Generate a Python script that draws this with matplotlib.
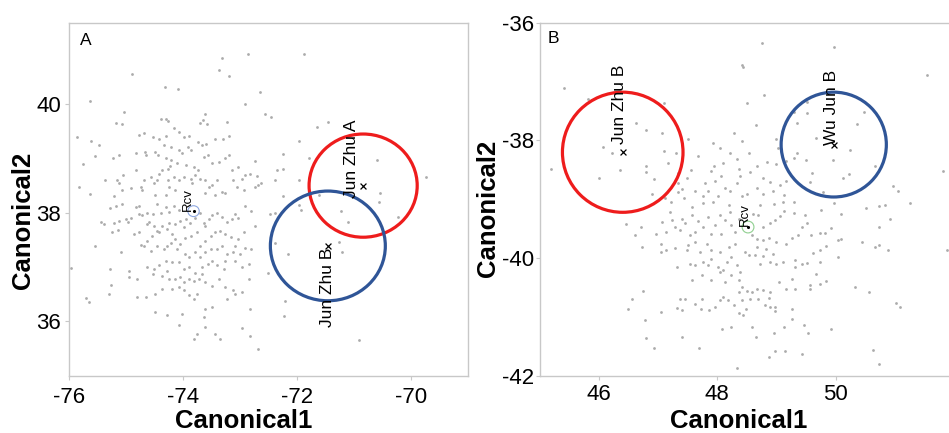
import numpy as np
import matplotlib
matplotlib.use("Agg")
import matplotlib.pyplot as plt
from matplotlib.patches import Circle

plt.rcParams['font.family'] = ['Liberation Sans', 'DejaVu Sans']
plt.rcParams['axes.unicode_minus'] = False

# ── Panel A: canonical scores ────────────────────────────────────────────────
a_points = [
    (-73.32, 40.85), (-72.87, 40.93), (-74.90, 40.55), (-73.37, 40.62), (-73.20, 40.52), (-72.65, 40.23),
    (-75.64, 40.05), (-74.32, 40.32), (-74.10, 40.28), (-72.92, 40.00), (-72.57, 39.82), (-75.04, 39.86),
    (-73.62, 39.82), (-74.40, 39.72), (-74.31, 39.73), (-74.26, 39.69), (-73.65, 39.71), (-73.70, 39.66),
    (-73.58, 39.63), (-75.18, 39.66), (-75.07, 39.64), (-73.23, 39.68), (-75.87, 39.39), (-75.62, 39.33),
    (-75.48, 39.24), (-74.78, 39.44), (-74.69, 39.47), (-74.54, 39.39), (-74.43, 39.35), (-74.30, 39.42),
    (-74.16, 39.56), (-74.07, 39.49), (-73.99, 39.39), (-73.90, 39.41), (-73.74, 39.31), (-73.67, 39.24),
    (-73.60, 39.26), (-73.44, 39.36), (-73.31, 39.36), (-73.19, 39.41), (-74.34, 39.24), (-74.22, 39.21),
    (-74.08, 39.15), (-74.02, 39.10), (-73.91, 39.21), (-73.87, 39.15), (-74.83, 39.10), (-74.67, 39.12),
    (-74.65, 39.06), (-75.13, 39.06), (-75.24, 39.00), (-75.55, 39.04), (-75.77, 38.89), (-74.50, 39.12),
    (-74.44, 39.06), (-74.30, 39.00), (-74.21, 38.97), (-74.23, 38.86), (-74.27, 38.81), (-74.11, 38.91),
    (-73.96, 38.88), (-73.81, 38.84), (-73.74, 38.78), (-73.64, 39.03), (-73.56, 39.06), (-73.49, 38.91),
    (-73.38, 38.94), (-73.26, 39.00), (-73.20, 39.06), (-73.14, 38.78), (-73.03, 38.84), (-72.74, 38.95),
    (-74.37, 38.78), (-74.43, 38.72), (-74.57, 38.66), (-74.69, 38.60), (-74.83, 38.78), (-75.06, 38.69),
    (-75.16, 38.60), (-75.13, 38.54), (-75.37, 38.60), (-75.83, 38.47), (-75.64, 38.34), (-75.07, 38.42),
    (-74.92, 38.45), (-74.75, 38.48), (-74.72, 38.42), (-74.51, 38.54), (-74.46, 38.60), (-74.26, 38.61),
    (-74.16, 38.65), (-74.08, 38.60), (-73.99, 38.66), (-73.87, 38.63), (-73.84, 38.54), (-73.79, 38.69),
    (-73.70, 38.63), (-73.61, 38.60), (-73.55, 38.48), (-73.49, 38.51), (-73.41, 38.60), (-73.32, 38.39),
    (-73.26, 38.36), (-73.12, 38.60), (-72.97, 38.63), (-72.91, 38.69), (-72.82, 38.72), (-72.71, 38.67),
    (-72.74, 38.48), (-72.68, 38.51), (-72.63, 38.54), (-72.94, 38.42), (-73.06, 38.48), (-74.25, 38.48),
    (-74.14, 38.42), (-74.49, 38.33), (-74.31, 38.33), (-73.61, 38.36), (-73.44, 38.33), (-75.21, 38.30),
    (-75.29, 38.09), (-75.18, 38.13), (-75.07, 38.16), (-74.83, 38.11), (-74.78, 38.13), (-74.46, 38.17),
    (-74.31, 38.11), (-74.16, 38.13), (-74.08, 38.06), (-74.25, 38.02), (-74.40, 38.00), (-74.54, 37.97),
    (-74.63, 37.99), (-74.72, 37.95), (-74.78, 37.97), (-74.92, 37.91), (-75.01, 37.88), (-74.98, 37.83),
    (-75.13, 37.85), (-75.21, 37.82), (-75.45, 37.83), (-75.39, 37.79), (-75.25, 37.64), (-75.14, 37.68),
    (-75.56, 37.39), (-75.10, 37.27), (-74.86, 37.61), (-74.78, 37.64), (-74.63, 37.79), (-74.60, 37.83),
    (-74.51, 37.76), (-74.47, 37.67), (-74.43, 37.64), (-74.55, 37.58), (-74.63, 37.48), (-74.69, 37.39),
    (-74.75, 37.40), (-74.57, 37.30), (-74.46, 37.39), (-74.34, 37.34), (-74.28, 37.39), (-74.22, 37.45),
    (-74.14, 37.51), (-74.19, 37.61), (-74.28, 37.70), (-74.37, 37.76), (-74.25, 37.82), (-74.15, 37.79),
    (-74.05, 37.85), (-73.96, 37.88), (-73.99, 37.73), (-73.89, 37.81), (-73.79, 37.91), (-73.70, 37.99),
    (-73.64, 37.82), (-73.61, 37.76), (-73.55, 37.89), (-73.49, 37.95), (-73.41, 38.00), (-73.32, 37.93),
    (-73.23, 37.83), (-73.14, 37.88), (-73.09, 37.97), (-73.03, 37.91), (-72.91, 38.13), (-72.81, 38.03),
    (-72.74, 37.76), (-72.94, 37.64), (-73.03, 37.51), (-73.10, 37.39), (-73.17, 37.55), (-73.26, 37.61),
    (-73.35, 37.67), (-73.44, 37.64), (-73.52, 37.58), (-73.61, 37.48), (-73.70, 37.39), (-73.76, 37.64),
    (-73.87, 37.58), (-73.97, 37.53), (-74.05, 37.42), (-74.11, 37.33), (-73.97, 37.24), (-73.90, 37.18),
    (-73.79, 37.27), (-73.70, 37.18), (-73.61, 37.27), (-73.52, 37.33), (-73.41, 37.33), (-73.32, 37.39),
    (-73.23, 37.24), (-73.12, 37.27), (-73.00, 37.24), (-72.91, 37.36), (-72.81, 37.33), (-72.85, 37.06),
    (-72.97, 37.00), (-73.09, 37.12), (-73.26, 37.12), (-73.41, 37.03), (-73.49, 37.12), (-73.56, 37.06),
    (-73.67, 37.00), (-73.79, 36.90), (-73.90, 37.00), (-73.99, 36.97), (-74.08, 37.09), (-74.19, 37.09),
    (-74.31, 37.12), (-74.43, 37.03), (-74.51, 36.97), (-74.63, 37.00), (-74.95, 36.93), (-75.29, 36.97),
    (-75.27, 36.67), (-74.95, 36.81), (-74.81, 36.78), (-74.54, 36.87), (-74.37, 36.84), (-74.28, 36.93),
    (-74.25, 36.78), (-74.15, 36.78), (-74.05, 36.81), (-73.99, 36.72), (-73.90, 36.78), (-73.81, 36.75),
    (-73.73, 36.78), (-73.67, 36.87), (-73.61, 36.72), (-73.49, 36.66), (-73.38, 36.78), (-73.29, 36.97),
    (-73.26, 36.63), (-73.12, 36.57), (-72.97, 36.54), (-72.85, 36.78), (-72.82, 36.23), (-72.97, 35.87),
    (-72.82, 35.74), (-72.68, 35.50), (-73.44, 35.77), (-73.35, 35.68), (-73.61, 35.90), (-73.76, 35.77),
    (-73.81, 35.68), (-74.08, 35.93), (-74.02, 36.14), (-74.28, 36.11), (-74.49, 36.17), (-74.66, 36.45),
    (-74.81, 36.45), (-75.30, 36.51), (-75.71, 36.43), (-75.65, 36.35), (-74.49, 36.51), (-74.37, 36.60),
    (-74.19, 36.60), (-74.08, 36.63), (-73.99, 36.57), (-73.90, 36.48), (-73.81, 36.42), (-73.76, 36.51),
    (-73.61, 36.23), (-73.64, 36.08), (-73.49, 36.26), (-73.23, 36.42), (-73.09, 36.51),
    (-71.88, 40.93), (-72.46, 39.76), (-71.65, 39.58), (-71.45, 39.67), (-71.96, 39.32), (-72.25, 39.08),
    (-71.80, 39.00), (-72.35, 38.78), (-72.25, 38.81), (-72.39, 38.61), (-71.96, 38.61), (-70.60, 38.98),
    (-69.74, 38.65), (-70.54, 38.37), (-72.25, 38.30), (-71.62, 38.32), (-72.48, 37.97), (-72.39, 38.00),
    (-71.93, 38.06), (-71.96, 38.14), (-71.23, 38.03), (-71.11, 37.83), (-71.26, 37.47), (-71.22, 37.28),
    (-72.39, 37.45), (-72.16, 37.24), (-72.51, 36.90), (-72.22, 36.37), (-72.23, 36.10), (-70.91, 35.65),
    (-70.57, 38.20), (-70.22, 37.93), (-75.98, 36.98),
]
a_x, a_y = np.array(a_points).T

a_groups   = ["Jun Zhu A", "Jun Zhu B"]
a_mean_x   = [-70.84, -71.46]
a_mean_y   = [38.50, 37.39]
a_radius   = [0.95, 1.01]
a_rcv      = (-73.82, 38.03)

# ── Panel B ───────────────────────────────────────────────────────────────────
b_points = [
    (45.41, -37.11), (45.81, -37.30), (45.19, -38.48), (46.00, -38.64), (46.07, -38.11), (46.21, -38.22),
    (46.35, -38.50), (46.62, -37.71), (46.80, -37.83), (47.07, -37.88), (47.09, -37.36), (47.10, -38.18),
    (47.30, -38.22), (47.16, -38.39), (46.79, -38.43), (46.79, -38.53), (46.93, -38.66), (47.50, -37.98),
    (47.67, -38.26), (47.93, -38.04), (48.05, -38.12), (48.21, -38.21), (48.33, -38.32), (48.36, -38.49),
    (48.42, -36.72), (48.29, -37.88), (48.42, -38.01), (47.55, -38.50), (47.48, -38.63), (47.33, -38.56),
    (47.34, -38.73), (47.40, -38.83), (47.33, -38.88), (47.44, -38.97), (47.62, -38.86), (47.79, -38.73),
    (47.85, -38.86), (47.96, -38.69), (48.06, -38.60), (48.13, -38.80), (48.21, -38.86), (48.33, -38.73),
    (48.38, -38.60), (48.41, -38.94), (48.02, -38.94), (47.76, -38.94), (47.89, -38.52), (47.95, -38.43),
    (48.10, -38.39), (47.11, -38.97), (46.89, -38.91),
    (48.75, -36.34), (49.97, -36.41), (51.55, -36.89), (48.44, -36.75), (48.79, -37.23), (48.51, -37.36),
    (49.52, -37.34), (49.52, -37.54), (49.29, -37.51), (48.65, -37.73), (49.35, -37.71), (49.67, -37.96),
    (50.36, -37.72), (50.48, -37.51), (49.00, -37.98), (49.02, -38.13), (49.34, -38.22), (49.50, -38.34),
    (49.96, -38.34), (50.25, -38.17), (50.67, -38.43), (50.23, -38.57), (50.13, -38.64), (49.61, -38.56),
    (49.56, -38.70), (49.29, -38.29), (49.17, -38.35), (49.00, -38.40), (48.84, -38.36), (48.67, -38.43),
    (48.53, -38.21), (48.56, -38.53), (48.78, -38.63), (48.89, -38.71), (49.06, -38.75), (49.17, -38.69),
    (48.67, -38.80), (48.78, -38.91), (48.95, -38.86), (49.12, -38.92), (48.50, -38.91), (50.98, -38.77),
    (51.06, -38.86), (51.82, -38.52), (49.79, -38.88),
    (47.22, -39.04), (47.58, -39.13), (47.76, -39.06), (47.93, -39.04), (48.19, -39.10), (46.71, -39.47),
    (46.61, -39.61), (46.45, -39.42), (46.73, -39.81), (46.97, -39.58), (47.05, -39.75), (47.13, -39.55),
    (47.06, -39.38), (47.23, -39.35), (47.28, -39.47), (47.20, -39.21), (47.40, -39.33), (47.37, -39.52),
    (47.45, -39.41), (47.54, -39.61), (47.62, -39.55), (47.57, -39.27), (47.68, -39.37), (47.76, -39.47),
    (47.85, -39.30), (47.90, -39.58), (47.96, -39.44), (48.05, -39.27), (48.13, -39.35), (48.21, -39.21),
    (48.24, -39.44), (48.30, -39.55), (48.36, -39.33), (48.07, -39.58), (47.82, -39.75), (47.71, -39.89),
    (47.62, -39.72), (47.50, -39.78), (47.48, -39.86), (47.28, -39.82), (47.14, -39.86), (47.05, -39.89),
    (47.31, -40.15), (47.54, -40.09), (47.62, -40.12), (47.76, -40.06), (47.90, -40.01), (47.85, -40.12),
    (48.02, -40.15), (48.10, -40.20), (48.16, -40.06), (48.24, -39.98), (48.33, -40.12), (48.38, -40.23),
    (48.05, -39.89), (48.19, -39.81), (48.30, -39.75), (47.90, -39.86), (47.74, -40.29), (47.58, -40.37),
    (47.90, -40.37), (48.05, -40.23), (48.13, -40.40), (48.36, -40.37), (48.24, -40.29), (46.75, -40.56),
    (46.56, -40.70), (46.49, -40.87), (46.78, -41.05), (47.05, -40.91), (47.37, -40.70), (47.45, -40.70),
    (47.31, -40.84), (47.41, -40.88), (47.62, -40.77), (47.74, -40.70), (47.72, -40.86), (47.86, -40.88),
    (47.96, -40.82), (48.05, -40.71), (48.10, -40.66), (48.18, -40.71), (48.29, -40.80), (48.36, -40.57),
    (48.41, -40.49), (48.08, -41.21), (48.24, -41.17), (46.79, -41.35), (46.93, -41.52), (47.41, -41.34),
    (47.69, -41.52), (48.41, -40.71), (48.36, -40.93), (48.34, -41.86),
    (48.73, -39.10), (48.96, -39.08), (49.11, -39.04), (49.29, -39.04), (49.97, -39.06), (50.52, -39.14),
    (50.74, -39.12), (50.84, -39.10), (51.26, -39.06), (50.93, -39.33), (50.74, -39.47), (50.09, -39.25),
    (49.75, -39.18), (49.48, -39.27), (49.51, -39.40), (49.44, -39.47), (49.29, -39.23), (49.12, -39.20),
    (49.06, -39.29), (48.98, -39.35), (48.89, -39.41), (48.78, -39.47), (48.69, -39.27), (48.61, -39.25),
    (49.93, -39.48), (49.82, -39.57), (49.73, -39.57), (49.58, -39.61), (49.37, -39.61), (49.27, -39.65),
    (49.16, -39.75), (49.00, -39.72), (48.88, -39.65), (48.78, -39.69), (48.68, -39.67), (48.58, -39.61),
    (48.67, -39.81), (48.82, -39.84), (48.94, -39.92), (48.78, -39.97), (48.64, -39.95), (48.53, -39.95),
    (48.47, -39.89), (48.72, -40.09), (48.89, -40.06), (49.00, -40.09), (49.11, -40.06), (49.31, -40.03),
    (49.31, -40.15), (49.44, -40.09), (49.51, -40.08), (49.62, -39.91), (49.73, -39.86), (49.84, -39.80),
    (50.05, -39.69), (50.10, -39.67), (50.44, -39.72), (50.67, -39.81), (50.74, -39.78), (50.89, -39.86),
    (50.05, -39.98), (49.73, -40.06), (49.67, -40.26), (49.57, -40.46), (49.56, -40.52), (49.74, -40.43),
    (49.84, -40.39), (49.27, -40.36), (49.31, -40.52), (49.17, -40.52), (49.05, -40.40), (48.89, -40.57),
    (48.78, -40.54), (48.68, -40.53), (48.58, -40.57), (48.51, -40.55), (48.55, -40.69), (48.69, -40.69),
    (48.88, -40.67), (48.81, -40.80), (48.89, -40.82), (48.98, -40.82), (48.98, -40.89), (49.26, -40.86),
    (48.49, -40.86), (48.44, -40.97), (49.27, -41.03), (49.47, -41.14), (49.13, -41.16), (48.58, -41.16),
    (48.65, -41.34), (48.96, -41.27), (49.54, -41.27), (48.88, -41.67), (48.98, -41.57), (49.15, -41.57),
    (49.43, -41.62), (50.33, -40.49), (50.56, -40.57), (51.02, -40.76), (51.09, -40.83), (50.64, -41.55),
    (50.74, -41.79), (49.92, -41.20), (51.89, -39.86),
]
b_x, b_y = np.array(b_points).T

b_groups   = ["Jun Zhu B", "Wu Jun B"]
b_mean_x   = [46.40, 49.97]
b_mean_y   = [-38.20, -38.07]
b_radius   = [1.02, 0.89]
b_rcv      = (48.52, -39.47)

# ── Style / layout ────────────────────────────────────────────────────────────
DOT   = '#ababab'
FRAME = '#c8c8c8'
RED   = '#ee1c1c'
BLUE  = '#2f5597'


def draw_panel(ax, px, py, groups, mx, my, rad, colors, label_xy,
               rcv, rcv_color, rcv_label_xy, letter, letter_xy):
    ax.scatter(px, py, s=4, color=DOT, linewidths=0, zorder=1)
    for name, x, y, r, c, (lx, ly) in zip(groups, mx, my, rad, colors, label_xy):
        ax.add_patch(Circle((x, y), r, fill=False, ec=c, lw=2.3, zorder=3))
        ax.scatter([x], [y], marker='x', s=18, color='black', linewidths=0.9, zorder=4)
        ax.text(lx, ly, name, rotation=90, ha='center', va='center', fontsize=12.5, zorder=5)
    ax.add_patch(Circle(rcv, 0.1, fill=False, ec=rcv_color, lw=0.8, zorder=3))
    ax.scatter([rcv[0]], [rcv[1]], s=5, color='black', linewidths=0, zorder=4)
    ax.text(*rcv_label_xy, "Rcv", rotation=90, ha='center', va='center', fontsize=9.5, zorder=5)
    ax.text(*letter_xy, letter, transform=ax.transAxes, ha='center', va='center', fontsize=12.5)

    for s in ax.spines.values():
        s.set_color(FRAME)
        s.set_linewidth(1.0)
    ax.tick_params(direction='out', length=3, color=FRAME, labelsize=16)
    ax.set_xlabel("Canonical1", fontsize=18.5, fontweight='bold')
    ax.set_ylabel("Canonical2", fontsize=18.5, fontweight='bold')
    ax.xaxis.label.set_va('center')
    ax.yaxis.label.set_va('center')


fig = plt.figure(figsize=(9.49, 4.33), dpi=100)

ax_a = fig.add_axes([0.0732, 0.1323, 0.4198, 0.8153])
draw_panel(ax_a, a_x, a_y, a_groups, a_mean_x, a_mean_y, a_radius, [RED, BLUE],
           [(-71.04, 38.99), (-71.46, 36.63)],
           a_rcv, '#8fa8e0', (-73.92, 38.24), "A", (0.041, 0.949))
ax_a.set_xlim(-76, -69)
ax_a.set_ylim(35, 41.5)
ax_a.set_xticks([-76, -74, -72, -70])
ax_a.set_yticks([36, 38, 40])
ax_a.tick_params(axis='x', pad=5)
ax_a.tick_params(axis='y', pad=3)
ax_a.xaxis.set_label_coords(0.437, -0.127)
ax_a.yaxis.set_label_coords(-0.117, 0.44)

ax_b = fig.add_axes([0.569, 0.1316, 0.431, 0.816])
draw_panel(ax_b, b_x, b_y, b_groups, b_mean_x, b_mean_y, b_radius, [RED, BLUE],
           [(46.34, -37.38), (49.93, -37.44)],
           b_rcv, '#8fcf8f', (48.46, -39.25), "B", (0.032, 0.954))
ax_b.set_xlim(45, 51.92)
ax_b.set_ylim(-42, -36)
ax_b.set_xticks([46, 48, 50])
ax_b.set_yticks([-42, -40, -38, -36])
ax_b.spines['right'].set_visible(False)
ax_b.tick_params(axis='x', pad=3)
ax_b.tick_params(axis='y', pad=1)
ax_b.xaxis.set_label_coords(0.487, -0.127)
ax_b.yaxis.set_label_coords(-0.126, 0.475)

fig.savefig("out.png", dpi=100)
